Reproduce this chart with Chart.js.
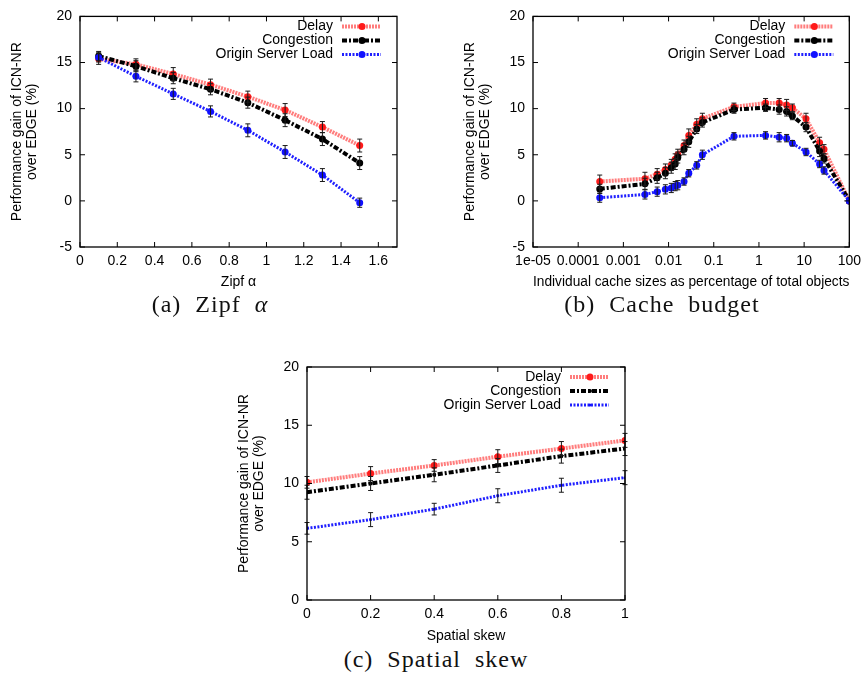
<!DOCTYPE html>
<html>
<head>
<meta charset="utf-8">
<script src="https://cdn.jsdelivr.net/npm/chart.js@4"></script>
<style>
  body { margin: 0; background: #fff; width: 867px; height: 675px; position: relative; overflow: hidden; }
  canvas { position: absolute; }
  .cap { position: absolute; font-family: 'Liberation Serif', serif; font-size: 24px; color: #111; transform: translateX(-50%); white-space: nowrap; word-spacing: 7px; letter-spacing: 1px; }
</style>
</head>
<body>
<canvas id="zipf" width="412" height="292" style="left:0px;top:0px"></canvas>
<canvas id="cache" width="414" height="292" style="left:453px;top:0px"></canvas>
<canvas id="skew" width="413" height="316" style="left:227px;top:330px"></canvas>
<div class="cap" style="left:210px;top:291px">(a) Zipf <i>α</i></div>
<div class="cap" style="left:662px;top:291px">(b) Cache budget</div>
<div class="cap" style="left:436px;top:646px">(c) Spatial skew</div>
<script>
// (a) Zipf alpha
const zipfAlpha = [0.1, 0.3, 0.5, 0.7, 0.9, 1.1, 1.3, 1.5];
const zipfDelay = [15.4, 14.8, 13.75, 12.6, 11.3, 9.85, 8.0, 6.0];
const zipfCongestion = [15.7, 14.6, 13.3, 12.1, 10.65, 8.75, 6.7, 4.1];
const zipfOrigin = [15.55, 13.5, 11.6, 9.7, 7.65, 5.3, 2.8, -0.2];
const zipfDelayErr = [0.6, 0.6, 0.7, 0.6, 0.6, 0.7, 0.6, 0.7];
const zipfCongestionErr = [0.5, 0.6, 0.6, 0.6, 0.6, 0.7, 0.7, 0.7];
const zipfOriginErr = [0.5, 0.6, 0.6, 0.6, 0.7, 0.7, 0.7, 0.5];
const zipfTicks = [0, 0.2, 0.4, 0.6, 0.8, 1, 1.2, 1.4, 1.6];

// (b) cache budget
const cacheSize = [0.0003, 0.003, 0.0056, 0.0085, 0.0115, 0.014, 0.016, 0.022, 0.028, 0.042, 0.056, 0.28, 1.4, 2.8, 4.1, 5.5, 11, 22, 27.5, 100];
const cacheDelay = [2.1, 2.4, 2.9, 3.4, 3.9, 4.5, 5.0, 6.0, 7.1, 8.3, 8.9, 10.2, 10.6, 10.6, 10.4, 10.1, 8.9, 6.3, 5.6, 0];
const cacheCongestion = [1.3, 1.85, 2.5, 3.0, 3.6, 4.0, 4.7, 5.6, 6.4, 7.8, 8.5, 9.9, 10.1, 9.9, 9.7, 9.2, 8.0, 5.4, 4.6, 0];
const cacheOrigin = [0.35, 0.7, 1.0, 1.25, 1.4, 1.6, 1.7, 2.1, 3.0, 3.85, 5.0, 7.0, 7.1, 6.9, 6.8, 6.25, 5.3, 4.0, 3.3, 0];
const cacheDelayErr = [0.7, 0.7, 0.6, 0.6, 0.6, 0.6, 0.6, 0.6, 0.7, 0.6, 0.6, 0.4, 0.5, 0.5, 0.6, 0.4, 0.6, 0.6, 0.5, 0];
const cacheCongestionErr = [0.5, 0.6, 0.6, 0.6, 0.6, 0.6, 0.6, 0.6, 0.6, 0.5, 0.5, 0.4, 0.4, 0.5, 0.5, 0.4, 0.5, 0.6, 0.5, 0];
const cacheOriginErr = [0.5, 0.5, 0.5, 0.5, 0.5, 0.5, 0.5, 0.4, 0.4, 0.4, 0.5, 0.4, 0.4, 0.5, 0.4, 0.3, 0.4, 0.4, 0.4, 0];
const cacheTicks = [1e-5, 1e-4, 1e-3, 1e-2, 0.1, 1, 10, 100];
const cacheTickLabels = ['1e-05', '0.0001', '0.001', '0.01', '0.1', '1', '10', '100'];

// (c) spatial skew
const skew = [0, 0.2, 0.4, 0.6, 0.8, 1];
const skewDelay = [10.1, 10.85, 11.55, 12.3, 13.0, 13.7];
const skewCongestion = [9.25, 10.0, 10.75, 11.55, 12.35, 13.0];
const skewOrigin = [6.15, 6.9, 7.8, 8.95, 9.85, 10.5];
const skewDelayErr = [0.5, 0.6, 0.5, 0.6, 0.6, 0.6];
const skewCongestionErr = [0.6, 0.6, 0.6, 0.6, 0.6, 0.6];
const skewOriginErr = [0.5, 0.6, 0.5, 0.6, 0.6, 0.6];
const skewTicks = [0, 0.2, 0.4, 0.6, 0.8, 1];

const seriesNames = ['Delay', 'Congestion', 'Origin Server Load'];
const yTitle = ['Performance gain of ICN-NR', 'over EDGE (%)'];
const FONT = 'Liberation Sans, Arial, sans-serif';

const styles = [
  { color: 'rgba(255,70,70,0.7)', point: '#ff1a1a', width: 4, dash: [2, 1] },
  { color: '#000', point: '#000', width: 4, dash: [5, 2, 2, 2] },
  { color: '#1f1fff', point: '#1010ff', width: 3, dash: [2, 1.5] }
];

function makeSet(i, xs, ys, errs, radius) {
  const s = styles[i];
  return {
    label: seriesNames[i],
    data: xs.map((x, k) => ({ x: x, y: ys[k] })),
    errors: errs,
    borderColor: s.color,
    borderWidth: s.width,
    borderDash: s.dash,
    pointRadius: radius,
    pointBackgroundColor: s.point,
    pointBorderWidth: 0,
    order: 3 - i,
    tension: 0
  };
}

// border box + inward ticks like gnuplot
const frameTicks = {
  id: 'frameTicks',
  afterDatasetsDraw(chart) {
    const ctx = chart.ctx, a = chart.chartArea;
    const x = chart.scales.x, y = chart.scales.y;
    ctx.save();
    ctx.strokeStyle = '#000';
    ctx.lineWidth = 1.3;
    ctx.setLineDash([]);
    ctx.strokeRect(a.left, a.top, a.right - a.left, a.bottom - a.top);
    ctx.lineWidth = 1;
    x.ticks.forEach(t => {
      const px = x.getPixelForValue(t.value);
      ctx.beginPath();
      ctx.moveTo(px, a.bottom); ctx.lineTo(px, a.bottom - 5);
      ctx.moveTo(px, a.top); ctx.lineTo(px, a.top + 5);
      ctx.stroke();
    });
    y.ticks.forEach(t => {
      const py = y.getPixelForValue(t.value);
      ctx.beginPath();
      ctx.moveTo(a.left, py); ctx.lineTo(a.left + 5, py);
      ctx.moveTo(a.right, py); ctx.lineTo(a.right - 5, py);
      ctx.stroke();
    });
    ctx.restore();
  }
};

const errorBars = {
  id: 'errorBars',
  afterDatasetsDraw(chart) {
    const ctx = chart.ctx;
    const x = chart.scales.x, y = chart.scales.y;
    ctx.save();
    ctx.strokeStyle = '#1a1a1a';
    ctx.lineWidth = 1;
    ctx.setLineDash([]);
    chart.data.datasets.forEach(ds => {
      ds.data.forEach((p, k) => {
        const e = ds.errors[k];
        if (!e) return;
        const px = x.getPixelForValue(p.x);
        const y1 = y.getPixelForValue(p.y + e), y2 = y.getPixelForValue(p.y - e);
        ctx.beginPath();
        ctx.moveTo(px, y1); ctx.lineTo(px, y2);
        ctx.moveTo(px - 2.5, y1); ctx.lineTo(px + 2.5, y1);
        ctx.moveTo(px - 2.5, y2); ctx.lineTo(px + 2.5, y2);
        ctx.stroke();
      });
    });
    ctx.restore();
  }
};

const keyBox = {
  id: 'keyBox',
  afterDraw(chart) {
    const ctx = chart.ctx, a = chart.chartArea;
    ctx.save();
    ctx.font = '14px ' + FONT;
    ctx.textAlign = 'right';
    ctx.textBaseline = 'middle';
    chart.data.datasets.forEach((ds, i) => {
      const yy = a.top + 10 + i * 14;
      ctx.fillStyle = '#000';
      ctx.fillText(ds.label, a.right - 64, yy);
      ctx.strokeStyle = ds.borderColor;
      ctx.lineWidth = ds.borderWidth;
      ctx.setLineDash(ds.borderDash);
      ctx.beginPath();
      ctx.moveTo(a.right - 55, yy); ctx.lineTo(a.right - 16, yy);
      ctx.stroke();
      if (ds.pointRadius > 0) {
        ctx.fillStyle = ds.pointBackgroundColor;
        ctx.beginPath();
        ctx.arc(a.right - 35, yy, ds.pointRadius, 0, Math.PI * 2);
        ctx.fill();
      }
    });
    ctx.restore();
  }
};

function makeChart(id, datasets, xOpts, yMin, yMax, yTicks, xTitle, xHeight, topPad) {
  return new Chart(document.getElementById(id), {
    type: 'line',
    data: { datasets: datasets },
    plugins: [errorBars, frameTicks, keyBox],
    options: {
      responsive: false,
      animation: false,
      devicePixelRatio: 1,
      layout: { padding: { top: topPad, right: 15, left: 0, bottom: 0 } },
      plugins: { legend: { display: false }, tooltip: { enabled: false } },
      scales: {
        x: Object.assign({
          grid: { display: false, drawTicks: false },
          border: { display: false },
          ticks: { padding: 6, color: '#000', font: { family: FONT, size: 14 }, maxRotation: 0, autoSkip: false,
            callback: v => String(v) },
          title: { display: true, text: xTitle, color: '#000', font: { family: FONT, size: 14, lineHeight: 1.1 }, padding: { top: 0, bottom: 2.5 } },
          afterFit: s => { s.height = xHeight; }
        }, xOpts),
        y: {
          type: 'linear',
          min: yMin,
          max: yMax,
          grid: { display: false, drawTicks: false },
          border: { display: false },
          afterBuildTicks: s => { s.ticks = yTicks.map(v => ({ value: v })); },
          ticks: { padding: 8, color: '#000', font: { family: FONT, size: 14 } },
          title: { display: true, text: yTitle, color: '#000', font: { family: FONT, size: 14, lineHeight: 1.08 }, padding: { top: 9.5, bottom: 0 } },
          afterFit: s => { s.width = 80; }
        }
      }
    }
  });
}

makeChart('zipf', [
  makeSet(0, zipfAlpha, zipfDelay, zipfDelayErr, 3.5),
  makeSet(1, zipfAlpha, zipfCongestion, zipfCongestionErr, 3.5),
  makeSet(2, zipfAlpha, zipfOrigin, zipfOriginErr, 3.5)
], {
  type: 'linear', min: 0, max: 1.7,
  afterBuildTicks: s => { s.ticks = zipfTicks.map(v => ({ value: v })); }
}, -5, 20, [-5, 0, 5, 10, 15, 20], 'Zipf α', 45, 13);

makeChart('cache', [
  makeSet(0, cacheSize, cacheDelay, cacheDelayErr, 3.5),
  makeSet(1, cacheSize, cacheCongestion, cacheCongestionErr, 3.5),
  makeSet(2, cacheSize, cacheOrigin, cacheOriginErr, 3.5)
], {
  type: 'logarithmic', min: 1e-5, max: 100,
  afterBuildTicks: s => { s.ticks = cacheTicks.map(v => ({ value: v })); },
  ticks: { padding: 6, color: '#000', font: { family: FONT, size: 14 }, maxRotation: 0, autoSkip: false,
    callback: (v, i) => cacheTickLabels[i] }
}, -5, 20, [-5, 0, 5, 10, 15, 20], 'Individual cache sizes as percentage of total objects', 45, 13);

makeChart('skew', [
  makeSet(0, skew, skewDelay, skewDelayErr, 3.5),
  makeSet(1, skew, skewCongestion, skewCongestionErr, 2),
  makeSet(2, skew, skewOrigin, skewOriginErr, 1.5)
], {
  type: 'linear', min: 0, max: 1,
  afterBuildTicks: s => { s.ticks = skewTicks.map(v => ({ value: v })); }
}, 0, 20, [0, 5, 10, 15, 20], 'Spatial skew', 46, 37);
</script>
</body>
</html>
